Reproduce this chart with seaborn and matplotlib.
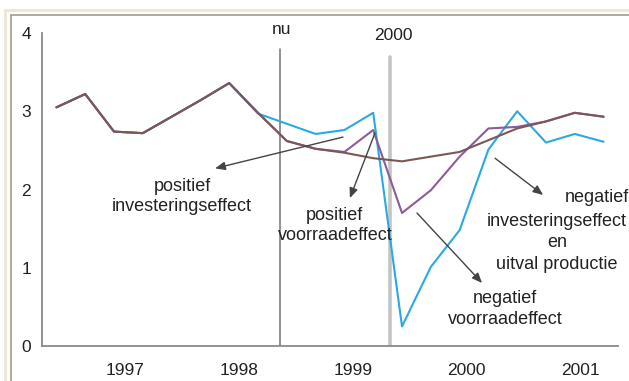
import numpy as np
import pandas as pd
import matplotlib
matplotlib.use("Agg")
import matplotlib.pyplot as plt
from matplotlib.lines import Line2D
import seaborn as sns

# ---- data (quarterly index 0..19) ----
quarters = list(range(20))
common = [3.05, 3.22, 2.74, 2.72, 2.93, 3.14, 3.36, 2.98]
basis = common + [2.62, 2.52, 2.47, 2.40, 2.36, 2.42, 2.48, 2.63, 2.78, 2.87, 2.98, 2.93]
voorraad = common + [2.62, 2.52, 2.48, 2.76, 1.70, 1.99, 2.42, 2.78, 2.80, 2.87, 2.98, 2.93]
investering = common[:7] + [2.97, 2.84, 2.71, 2.76, 2.98, 0.25, 1.01, 1.48, 2.51, 3.00, 2.60, 2.71, 2.61]
series_names = ["investering", "voorraad", "basis"]
series_colors = ["#2ba9e1", "#8b5b9b", "#7d5656"]
year_labels = ["1997", "1998", "1999", "2000", "2001"]
year_label_pos = [2.4, 6.35, 10.3, 14.25, 18.2]
boundary_ticks = [-0.5, 3.5, 7.5, 11.5, 15.5, 19.5]
y_ticks = [0, 1, 2, 3, 4]

df = pd.DataFrame({
    "kwartaal": quarters * 3,
    "waarde": investering + voorraad + basis,
    "reeks": ["investering"] * 20 + ["voorraad"] * 20 + ["basis"] * 20,
})

sns.set_style("white")
plt.rcParams["font.family"] = ["Liberation Sans", "DejaVu Sans"]

fig = plt.figure(figsize=(6.29, 3.81), dpi=100)
W, H = 629, 381
ax = fig.add_axes([42 / W, 1 - 346 / H, (618 - 42) / W, (346 - 33) / H])

sns.lineplot(data=df, x="kwartaal", y="waarde", hue="reeks", hue_order=series_names,
             palette=series_colors, legend=False, ax=ax, linewidth=1.5)

ax.set_xlim(-0.5, 19.5)
ax.set_ylim(0, 4)
ax.set_xlabel("")
ax.set_ylabel("")

for s in ["top", "right"]:
    ax.spines[s].set_visible(False)
for s in ["left", "bottom"]:
    ax.spines[s].set_color("#8a8a8a")
    ax.spines[s].set_linewidth(1.3)

ax.set_yticks(y_ticks)
ax.set_yticklabels([str(v) for v in y_ticks])
ax.tick_params(axis="y", which="major", direction="out", length=4, width=1.2,
               color="#8a8a8a", pad=4, labelsize=12.5, labelcolor="#222222")

ax.set_xticks(boundary_ticks)
ax.set_xticklabels([""] * len(boundary_ticks))
ax.tick_params(axis="x", which="major", direction="out", length=7, width=1.2, color="#8a8a8a")
ax.set_xticks(year_label_pos, minor=True)
ax.set_xticklabels(year_labels, minor=True)
ax.tick_params(axis="x", which="minor", length=0, pad=12, labelsize=12.5, labelcolor="#222222")

# vertical markers
ax.plot([7.76, 7.76], [0, 3.80], color="#808080", lw=1.2, zorder=1)
ax.plot([11.6, 11.6], [0, 3.69], color="#c4c4c4", lw=2.6, zorder=1)
ax.text(7.83, 4.04, "nu", ha="center", va="center", fontsize=12.5, color="#222222", clip_on=False)
ax.text(11.69, 3.97, "2000", ha="center", va="center", fontsize=12.5, color="#222222", clip_on=False)

tc = "#222222"
fs = 13
arrow = dict(arrowstyle="-|>,head_length=0.6,head_width=0.25", color="#444444", lw=1.0,
             shrinkA=0, shrinkB=0)

ax.annotate("", xy=(5.51, 2.27), xytext=(9.95, 2.67), arrowprops=arrow)
ax.text(4.36, 1.91, "positief\ninvesteringseffect", ha="center", va="center",
        fontsize=fs, color=tc, linespacing=1.3)

ax.annotate("", xy=(10.19, 1.89), xytext=(11.06, 2.72), arrowprops=arrow)
ax.text(9.67, 1.54, "positief\nvoorraadeffect", ha="center", va="center",
        fontsize=fs, color=tc, linespacing=1.3)

ax.annotate("", xy=(14.78, 0.805), xytext=(12.52, 1.70), arrowprops=arrow)
ax.text(15.58, 0.473, "negatief\nvoorraadeffect", ha="center", va="center",
        fontsize=fs, color=tc, linespacing=1.3)

ax.annotate("", xy=(16.9, 1.93), xytext=(15.23, 2.40), arrowprops=arrow)
ax.text(18.77, 1.90, "negatief", ha="center", va="center", fontsize=fs, color=tc, clip_on=False)
ax.text(17.38, 1.32, "investeringseffect\nen\nuitval productie", ha="center", va="center",
        fontsize=fs, color=tc, linespacing=1.35, clip_on=False)

# outer frame (cropped chart border)
def fx(px):
    return px / W

def fy(py):
    return 1 - py / H

fig.add_artist(Line2D([fx(5), fx(W + 5)], [fy(10), fy(10)], color="#ece6d6", lw=2.0))
fig.add_artist(Line2D([fx(5), fx(5)], [fy(10), fy(H + 5)], color="#ece6d6", lw=2.0))
fig.add_artist(Line2D([fx(11), fx(W + 5)], [fy(15), fy(15)], color="#a9a393", lw=1.3))
fig.add_artist(Line2D([fx(11), fx(11)], [fy(15), fy(H + 5)], color="#a9a393", lw=1.3))

fig.savefig("out.png", dpi=100)
